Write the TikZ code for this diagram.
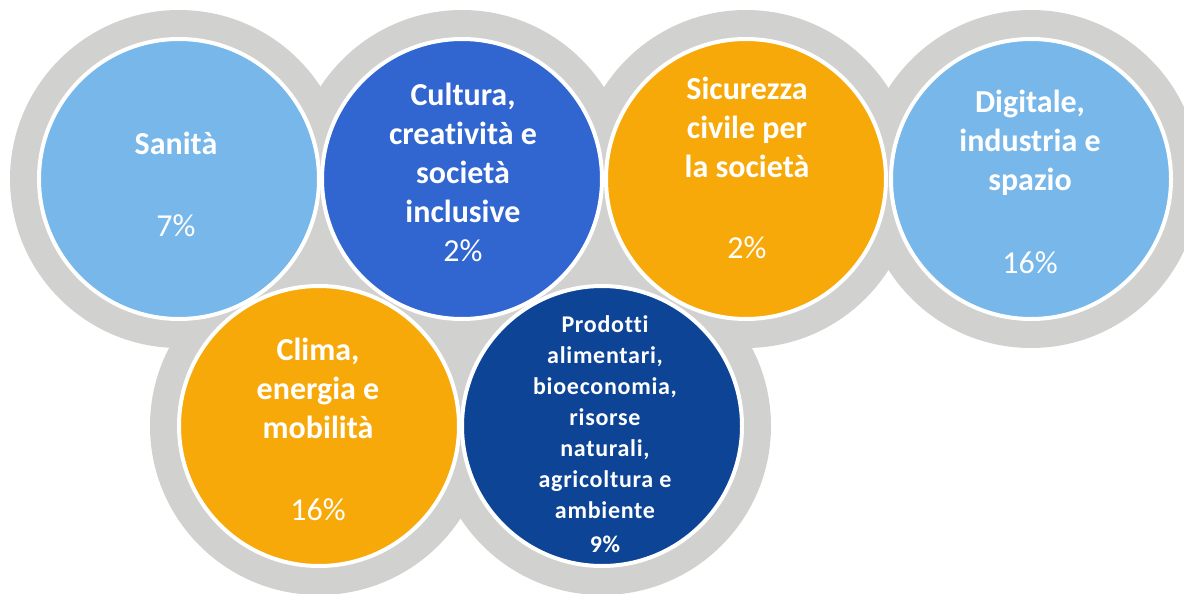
\documentclass[tikz,border=0pt]{standalone}
\usepackage{fontspec}
\setmainfont[Ligatures=NoCommon]{Carlito}
\newfontfamily\spacedfont[LetterSpace=3, Ligatures=NoCommon]{Carlito}
\usetikzlibrary{positioning}

\definecolor{ringgrey}{HTML}{D1D1D0}
\definecolor{skyblue}{HTML}{78B7E9}
\definecolor{midblue}{HTML}{3166D0}
\definecolor{amber}{HTML}{F7A90A}
\definecolor{navyblue}{HTML}{0E4496}

\tikzset{
  ring/.style={circle, fill=ringgrey, minimum size=338pt, inner sep=0pt},
  disc/.style={circle, draw=white, line width=4pt, minimum size=280pt, inner sep=0pt},
  topic/.style={text=white, font=\fontsize{32}{39}\selectfont\bfseries, align=center, anchor=base, inner sep=0pt},
  share/.style={text=white, font=\fontsize{32}{39}\selectfont, anchor=base, inner sep=0pt},
  smalltopic/.style={topic, font=\spacedfont\fontsize{24}{31}\selectfont\bfseries},
}

\begin{document}
\begin{tikzpicture}[x=1pt, y=-1pt]

  \useasboundingbox (0,0) rectangle (1184,594);

  % Grey rings
  \foreach \n/\x/\y in {sanita/179/179, cultura/462/179, sicurezza/746/179,
      digitale/1031/179, clima/319/426, prodotti/602/426}
    \node[ring] (\n-ring) at (\x,\y) {};

  % Define nodes
  \node[disc, fill=skyblue]  (sanita)    at (179,179) {};
  \node[disc, fill=midblue]  (cultura)   at (462,179) {};
  \node[disc, fill=amber]    (sicurezza) at (746,179) {};
  \node[disc, fill=skyblue]  (digitale)  at (1031,179) {};
  \node[disc, fill=amber]    (clima)     at (319,426) {};
  \node[disc, fill=navyblue] (prodotti)  at (602,426) {};

  % Labels (anchored at the baseline of their last line)
  \node[topic] (sanitalbl) at (176,154) {Sanità};
  \node[share] (sanitapct) at (176,236) {7\%};

  \node[topic] (culturalbl) at (463,222) {Cultura,\\creatività e\\società\\inclusive};
  \node[share] (culturapct) at (463,261) {2\%};

  \node[topic] (sicurezzalbl) at (747,177) {Sicurezza\\civile per\\la società};
  \node[share] (sicurezzapct) at (747,258) {2\%};

  \node[topic] (digitalelbl) at (1030,190) {Digitale,\\industria e\\spazio};
  \node[share] (digitalepct) at (1030,273) {16\%};

  \node[topic] (climalbl) at (318,438) {Clima,\\energia e\\mobilità};
  \node[share] (climapct) at (318,520) {16\%};

  \node[smalltopic] (prodottilbl) at (605,518) {Prodotti\\alimentari,\\bioeconomia,\\risorse\\naturali,\\agricoltura e\\ambiente};
  \node[smalltopic] (prodottipct) at (605,552) {9\%};

\end{tikzpicture}
\end{document}
